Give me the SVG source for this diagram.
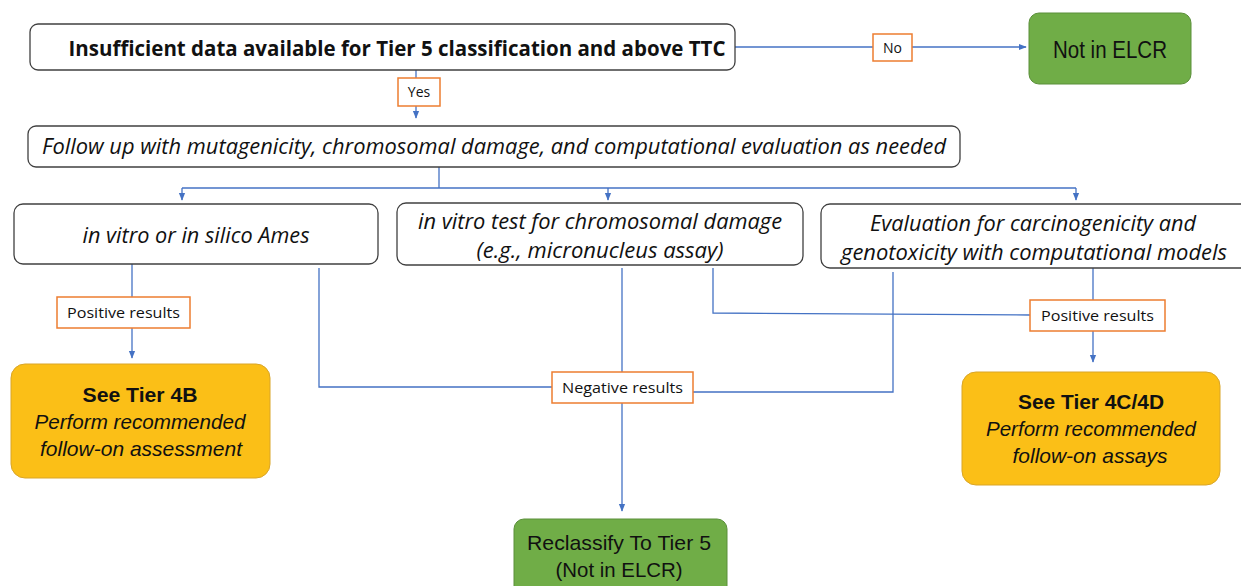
<svg xmlns="http://www.w3.org/2000/svg" width="1241" height="586" viewBox="0 0 1241 586">
<defs>
<marker id="ah" viewBox="0 0 10 10" refX="9" refY="5" markerWidth="8" markerHeight="8" markerUnits="userSpaceOnUse" orient="auto">
<path d="M0,1 L10,5 L0,9 Z" fill="#4472C4"/>
</marker>
<style>
.n{fill:#fff;stroke:#404040;stroke-width:1.3}
.g{fill:#70AD47;stroke:#5b8f3a;stroke-width:1}
.y{fill:#FBBF17;stroke:#d9a528;stroke-width:1}
.lb{fill:#fff;stroke:#ED7D31;stroke-width:1.5}
.c{fill:none;stroke:#4472C4;stroke-width:1.3}
.ca{fill:none;stroke:#4472C4;stroke-width:1.3;marker-end:url(#ah)}
text{font-family:"Open Sans","Noto Sans","Liberation Sans",sans-serif;fill:#111;text-anchor:middle}
.a{font-family:"Liberation Sans",Arial,sans-serif}
.b{font-weight:bold}
.i{font-style:italic}
</style>
</defs>
<g id="connectors">
<path class="ca" d="M735,47 L1026,47"/>
<path class="ca" d="M416,70 L416,118"/>
<path class="c" d="M439,167 L439,188"/>
<path class="c" d="M182,188 L1076,188"/>
<path class="ca" d="M182,188 L182,200"/>
<path class="ca" d="M608,188 L608,200"/>
<path class="ca" d="M1076,188 L1076,200"/>
<path class="ca" d="M132,264 L132,358"/>
<path class="c" d="M319,268 L319,387 L552,387"/>
<path class="c" d="M622,268 L622,372"/>
<path class="c" d="M893,272 L893,392 L693,392"/>
<path class="ca" d="M622,403 L622,511"/>
<path class="c" d="M713,268 L713,313 L1030,315"/>
<path class="ca" d="M1093,268 L1093,362"/>
</g>
<g id="label-no"><rect class="lb" x="873" y="34" width="39" height="27"/><text x="892.5" y="53" font-size="14">No</text></g>
<g id="label-yes"><rect class="lb" x="398" y="78" width="42" height="28"/><text x="419" y="97" font-size="14">Yes</text></g>
<g id="label-pos1"><rect class="lb" x="57" y="297" width="133" height="31"/><text x="123.5" y="318" font-size="15" textLength="113" lengthAdjust="spacingAndGlyphs">Positive results</text></g>
<g id="label-pos2"><rect class="lb" x="1030" y="300" width="135" height="31"/><text x="1097.5" y="321" font-size="15" textLength="113" lengthAdjust="spacingAndGlyphs">Positive results</text></g>
<g id="label-neg"><rect class="lb" x="552" y="372" width="141" height="31"/><text x="622.5" y="393" font-size="15" textLength="121" lengthAdjust="spacingAndGlyphs">Negative results</text></g>
<g id="node-start"><rect class="n" x="30" y="24" width="705" height="46" rx="8"/><text class="b" x="397" y="55.5" font-size="20.5" textLength="657" lengthAdjust="spacingAndGlyphs">Insufficient data available for Tier 5 classification and above TTC</text></g>
<g id="node-not-elcr"><rect class="g" x="1029" y="13" width="162" height="71" rx="10"/><text class="a" x="1110" y="58" font-size="23" textLength="114" lengthAdjust="spacingAndGlyphs">Not in ELCR</text></g>
<g id="node-follow"><rect class="n" x="28" y="126" width="932" height="41" rx="8"/><text class="i" x="494" y="154" font-size="21" textLength="904" lengthAdjust="spacingAndGlyphs">Follow up with mutagenicity, chromosomal damage, and computational evaluation as needed</text></g>
<g id="node-ames"><rect class="n" x="14" y="204" width="364" height="60" rx="9"/><text class="i" x="196" y="243" font-size="21" textLength="227" lengthAdjust="spacingAndGlyphs">in vitro or in silico Ames</text></g>
<g id="node-chrom"><rect class="n" x="397" y="203" width="406" height="62" rx="9"/><text class="i" x="600" y="229" font-size="21" textLength="364" lengthAdjust="spacingAndGlyphs">in vitro test for chromosomal damage</text><text class="i" x="600" y="258" font-size="21" textLength="247" lengthAdjust="spacingAndGlyphs">(e.g., micronucleus assay)</text></g>
<g id="node-eval"><rect class="n" x="821" y="204" width="440" height="64" rx="9"/><text class="i" x="1033" y="231" font-size="21" textLength="326" lengthAdjust="spacingAndGlyphs">Evaluation for carcinogenicity and</text><text class="i" x="1034" y="260" font-size="21" textLength="386" lengthAdjust="spacingAndGlyphs">genotoxicity with computational models</text></g>
<g id="node-tier4b"><rect class="y" x="11" y="364" width="259" height="114" rx="14"/><text class="a b" x="140" y="402" font-size="21" textLength="115" lengthAdjust="spacingAndGlyphs">See Tier 4B</text><text class="a i" x="140" y="429" font-size="21" textLength="211" lengthAdjust="spacingAndGlyphs">Perform recommended</text><text class="a i" x="141" y="456" font-size="21" textLength="202" lengthAdjust="spacingAndGlyphs">follow-on assessment</text></g>
<g id="node-tier4cd"><rect class="y" x="962" y="372" width="258" height="113" rx="14"/><text class="a b" x="1091" y="409" font-size="21" textLength="146" lengthAdjust="spacingAndGlyphs">See Tier 4C/4D</text><text class="a i" x="1091" y="436" font-size="21" textLength="210" lengthAdjust="spacingAndGlyphs">Perform recommended</text><text class="a i" x="1090" y="463" font-size="21" textLength="155" lengthAdjust="spacingAndGlyphs">follow-on assays</text></g>
<g id="node-reclassify"><rect class="g" x="514" y="519" width="213" height="80" rx="10"/><text class="a" x="619" y="550" font-size="21" textLength="184" lengthAdjust="spacingAndGlyphs">Reclassify To Tier 5</text><text class="a" x="619" y="577" font-size="21" textLength="127" lengthAdjust="spacingAndGlyphs">(Not in ELCR)</text></g>
</svg>
